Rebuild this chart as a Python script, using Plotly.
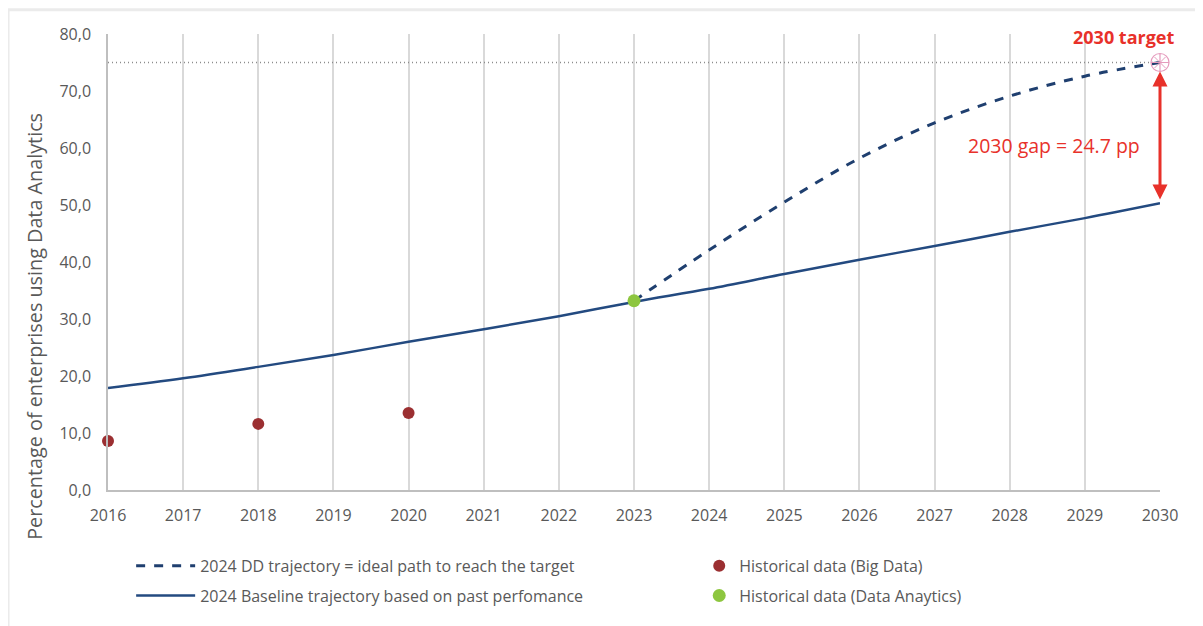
import plotly.graph_objects as go

years = list(range(2016, 2031))
baseline = [17.9, 19.6, 21.6, 23.7, 26.0, 28.2, 30.5, 33.0, 35.3, 37.9, 40.4, 42.8, 45.3, 47.7, 50.3]
dd_years = [2023, 2024, 2025, 2026, 2027, 2028, 2029, 2030]
dd_traj = [33.2, 42.1, 50.5, 58.2, 64.4, 69.1, 72.6, 75.0]
bigdata_years = [2016, 2018, 2020]
bigdata_vals = [8.6, 11.6, 13.5]
da_years = [2023]
da_vals = [33.2]
target_year = 2030
target_value = 75.0
gap = 24.7

NAVY = "#1f3f6f"
RED = "#e8312a"
GRAY = "#595959"
FONT = "Open Sans"

fig = go.Figure()

# target dotted line
fig.add_trace(go.Scatter(x=[years[0], years[-1]], y=[target_value, target_value], mode="lines",
                         line=dict(color="#8c8c8c", width=1.3, dash="1px,3px"), showlegend=False, hoverinfo="skip"))

fig.add_trace(go.Scatter(x=dd_years, y=dd_traj, mode="lines", name="2024 DD trajectory = ideal path to reach the target",
                         line=dict(color=NAVY, width=3, dash="dash", shape="spline"), legend="legend", legendgroup="a"))
fig.add_trace(go.Scatter(x=years, y=baseline, mode="lines", name="2024 Baseline trajectory based on past perfomance",
                         line=dict(color="#234a80", width=2.5, shape="spline"), legend="legend", legendgroup="b",
                         cliponaxis=False))
fig.add_trace(go.Scatter(x=bigdata_years, y=bigdata_vals, mode="markers", name="Historical data (Big Data)",
                         marker=dict(color="#9b2f31", size=12), legend="legend2", legendgroup="c", cliponaxis=False))
fig.add_trace(go.Scatter(x=da_years, y=da_vals, mode="markers", name="Historical data (Data Anaytics)",
                         marker=dict(color="#8dc63f", size=13), legend="legend2", legendgroup="d", cliponaxis=False))

# target marker
fig.add_trace(go.Scatter(x=[target_year], y=[target_value], mode="markers", showlegend=False, cliponaxis=False,
                         marker=dict(symbol="circle-cross-open", size=18, color="#e59bbd", line=dict(width=1.2))))
fig.add_trace(go.Scatter(x=[target_year], y=[target_value], mode="markers", showlegend=False, cliponaxis=False,
                         marker=dict(symbol="x-thin-open", size=11, color="#e59bbd", line=dict(width=1))))

# gap arrow
fig.add_annotation(x=target_year, y=target_value - 1.6, ax=target_year, ay=baseline[-1] + 0.4,
                   xref="x", yref="y", axref="x", ayref="y", text="", showarrow=True,
                   arrowhead=2, startarrowhead=2, arrowside="end+start", arrowsize=1, startarrowsize=1,
                   arrowwidth=3, arrowcolor=RED)
fig.add_annotation(x=2028.59, y=60.5, xref="x", yref="y", text=f"2030 gap = {gap} pp", showarrow=False,
                   font=dict(family=FONT, size=19.5, color=RED))
fig.add_annotation(x=2029.52, y=79.5, xref="x", yref="y", text="<b>2030 target</b>", showarrow=False,
                   font=dict(family=FONT, size=18, color=RED))

# y-axis title
fig.add_annotation(x=-0.0694, y=0.36, xref="paper", yref="paper", text="Percentage of enterprises using Data Analytics",
                   textangle=-90, showarrow=False, xanchor="center", yanchor="middle",
                   font=dict(family=FONT, size=19.8, color=GRAY))

# outer border
fig.add_shape(type="rect", xref="paper", yref="paper", x0=-0.095, x1=1.036, y0=-0.4, y1=1.053,
              line=dict(color="#ebebeb", width=3), layer="below")

fig.update_layout(
    width=1195, height=618,
    margin=dict(l=100, r=43, t=26, b=136),
    plot_bgcolor="white", paper_bgcolor="white",
    separators=",.",
    font=dict(family=FONT, color=GRAY, size=15),
    xaxis=dict(range=[2016, 2030], dtick=1, tick0=2016, showgrid=True, gridcolor="#d9d9d9", gridwidth=1.5,
               showline=True, linecolor="#bfbfbf", linewidth=1.5, ticks="", zeroline=False,
               ticklabelstandoff=10, tickfont=dict(size=16, color=GRAY)),
    yaxis=dict(range=[0, 80], dtick=10, tickformat=".1f", showgrid=False, showline=True, linecolor="#bfbfbf",
               linewidth=1.5, ticks="", zeroline=False, ticklabelstandoff=12, tickfont=dict(size=16, color=GRAY)),
    legend=dict(x=0.022, y=-0.129, xanchor="left", yanchor="top", orientation="v", tracegroupgap=6,
                font=dict(size=16, color=GRAY), bgcolor="rgba(0,0,0,0)", itemwidth=59),
    legend2=dict(x=0.562, y=-0.129, xanchor="left", yanchor="top", orientation="v", tracegroupgap=6,
                 font=dict(size=16, color=GRAY), bgcolor="rgba(0,0,0,0)", itemwidth=30),
    showlegend=True,
)

fig.write_html("out.html")
